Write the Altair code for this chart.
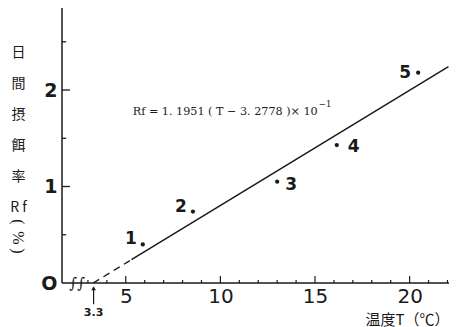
import altair as alt
import pandas as pd

# ---------------- data ----------------
temps = [5.9, 8.55, 13.0, 16.15, 20.45]
rates = [0.40, 0.74, 1.05, 1.43, 2.18]
point_ids = ["1", "2", "3", "4", "5"]

fit_dash_T = [3.2778, 5.3]
fit_dash_R = [0.0, 0.2417]
fit_solid_T = [5.3, 22.05]
fit_solid_R = [0.2417, 2.2435]

x_major = [5, 10, 15, 20]
x_minor = [3, 4, 6, 7, 8, 9, 11, 12, 13, 14, 16, 17, 18, 19, 21, 22]
y_major = [1, 2]
y_minor = [0.5, 1.5, 2.5]
y_labels = [0, 1, 2]

x_lo, x_hi = 1.63, 22.08
y_lo, y_hi = 0.0, 2.85
threshold_T = 3.3
equation_main = "Rf = 1. 1951 ( T − 3. 2778 )× 10"
equation_exp = "−1"

# label offsets (styling only)
label_dx = [-6, -6, 8, 11, -7]
label_dy = [-5, -5, 3, 2, 0]
label_align = ["right", "right", "left", "left", "right"]

INK = "#1a1a1a"
W, H = 387, 275

xs = alt.Scale(domain=[x_lo, x_hi], nice=False, zero=False)
ys = alt.Scale(domain=[y_lo, y_hi], nice=False, zero=False)

XAX = alt.Axis(
    values=x_major, ticks=False, domain=False, grid=False,
    labelFont="DejaVu Sans", labelFontSize=20, labelColor=INK,
    labelPadding=3, labelFlush=False, labelOverlap=False,
    title="温度T（℃）", titleFont="Noto Sans CJK JP", titleFontSize=15,
    titleFontWeight="normal", titleColor=INK, titleAnchor="start",
    titleAlign="right", titleX=387, titleY=41, titleBaseline="alphabetic")
YAX = alt.Axis(
    values=y_labels, ticks=False, domain=False, grid=False,
    labelExpr="datum.value == 0 ? 'O' : datum.label",
    labelFont="DejaVu Sans", labelFontSize=19, labelFontWeight="bold",
    labelColor=INK, labelPadding=5,
    title=["日", "間", "摂", "餌", "率", "R f"], titleAngle=0,
    titleFont="Noto Sans CJK JP", titleFontSize=14, titleFontWeight="normal",
    titleColor=INK, titleLineHeight=31, titleX=-44, titleY=37,
    titleAlign="center", titleBaseline="top")


def X(f):
    return alt.X(f, scale=xs, axis=XAX)


def Y(f):
    return alt.Y(f, scale=ys, axis=YAX)


# ---------------- layers ----------------
pts = pd.DataFrame({"T": temps, "R": rates, "id": point_ids})

layers = [alt.Chart(pts).mark_circle(size=18, color=INK, opacity=1).encode(x=X("T:Q"), y=Y("R:Q"))]

for i in range(len(point_ids)):
    one = pd.DataFrame({"T": [temps[i]], "R": [rates[i]], "id": [point_ids[i]]})
    layers.append(alt.Chart(one).mark_text(
        font="DejaVu Sans", fontSize=17, fontWeight="bold", color=INK,
        align=label_align[i], baseline="middle", dx=label_dx[i], dy=label_dy[i]
    ).encode(x=X("T:Q"), y=Y("R:Q"), text="id:N"))

dash = pd.DataFrame({"T": fit_dash_T, "R": fit_dash_R})
solid = pd.DataFrame({"T": fit_solid_T, "R": fit_solid_R})
layers.append(alt.Chart(dash).mark_line(color=INK, strokeWidth=1.4, strokeDash=[7, 5]).encode(
    x=X("T:Q"), y=Y("R:Q")))
layers.append(alt.Chart(solid).mark_line(color=INK, strokeWidth=1.5).encode(
    x=X("T:Q"), y=Y("R:Q")))

# axis lines
layers.append(alt.Chart(pd.DataFrame({"T": [x_lo], "R": [y_lo], "R1": [y_hi]})).mark_rule(
    color=INK, strokeWidth=1.5).encode(x=X("T:Q"), y=Y("R:Q"), y2="R1:Q"))
layers.append(alt.Chart(pd.DataFrame({"T": [x_lo], "T1": [x_hi], "R": [0.0]})).mark_rule(
    color=INK, strokeWidth=1.5).encode(x=X("T:Q"), x2="T1:Q", y=Y("R:Q")))

# y ticks (pointing inward)
yt = pd.DataFrame({"R": y_major + y_minor,
                   "T": [x_lo] * (len(y_major) + len(y_minor)),
                   "T1": [x_lo + 0.42] * len(y_major) + [x_lo + 0.22] * len(y_minor)})
layers.append(alt.Chart(yt).mark_rule(color=INK, strokeWidth=1.3).encode(
    x=X("T:Q"), x2="T1:Q", y=Y("R:Q")))

# x ticks (pointing up)
xt = pd.DataFrame({"T": x_major + x_minor,
                   "R": [0.0] * (len(x_major) + len(x_minor)),
                   "R1": [0.072] * len(x_major) + [0.032] * len(x_minor)})
layers.append(alt.Chart(xt).mark_rule(color=INK, strokeWidth=1.2).encode(
    x=X("T:Q"), y=Y("R:Q"), y2="R1:Q"))

# axis break
layers.append(alt.Chart(pd.DataFrame({"T": [2.43], "R": [0.0], "s": ["∫∫"]})).mark_text(
    font="DejaVu Serif", fontSize=15, color=INK, baseline="middle", align="center").encode(
    x=X("T:Q"), y=Y("R:Q"), text="s:N"))

# 3.3 arrow and label
layers.append(alt.Chart(pd.DataFrame({"T": [threshold_T], "R": [-0.22], "R1": [-0.05]})).mark_rule(
    color=INK, strokeWidth=1.2).encode(x=X("T:Q"), y=Y("R:Q"), y2="R1:Q"))
layers.append(alt.Chart(pd.DataFrame({"T": [threshold_T], "R": [-0.055]})).mark_point(
    shape="triangle-up", size=22, filled=True, color=INK, opacity=1).encode(
    x=X("T:Q"), y=Y("R:Q")))
layers.append(alt.Chart(pd.DataFrame({"T": [threshold_T], "R": [-0.22], "s": [str(threshold_T)]})).mark_text(
    font="DejaVu Sans", fontSize=11, fontWeight="bold", color=INK, baseline="top", dy=3).encode(
    x=X("T:Q"), y=Y("R:Q"), text="s:N"))

# equation
layers.append(alt.Chart(pd.DataFrame({"T": [5.37], "R": [1.77], "s": [equation_main]})).mark_text(
    font="DejaVu Serif", fontSize=11.2, color=INK, align="left", baseline="middle").encode(
    x=X("T:Q"), y=Y("R:Q"), text="s:N"))
layers.append(alt.Chart(pd.DataFrame({"T": [15.2], "R": [1.85], "s": [equation_exp]})).mark_text(
    font="DejaVu Serif", fontSize=8.5, color=INK, align="left", baseline="middle").encode(
    x=X("T:Q"), y=Y("R:Q"), text="s:N"))

# vertical parentheses of the y title
paren_chars = ["(", "%", ")"]
paren_y = [214, 230, 243]
for ch, yy in zip(paren_chars, paren_y):
    layers.append(alt.Chart(pd.DataFrame({"s": [ch]})).mark_text(
        font="Liberation Serif", fontSize=16, color=INK, align="center", baseline="middle",
        angle=90).encode(x=alt.value(-44), y=alt.value(yy), text="s:N"))

chart = alt.layer(*layers).properties(
    width=W, height=H,
    autosize=alt.AutoSizeParams(type="none"),
    padding={"left": 54, "top": 0, "right": 0, "bottom": 44},
    background="white",
).configure_view(stroke=None)

chart.save("out.html", embed_options={"renderer": "svg", "actions": False})
